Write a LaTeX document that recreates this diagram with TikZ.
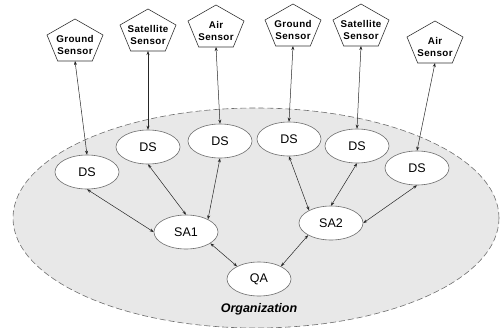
\documentclass[tikz,border=0pt]{standalone}
\usepackage{fontspec}
\setmainfont{Liberation Sans}
\usetikzlibrary{shapes.geometric,arrows.meta}

\definecolor{orgfill}{HTML}{E8E8E8}
\definecolor{rim}{HTML}{6E6E6E}

\tikzset{
  sensorframe/.style={draw=black!80, fill=white, line width=0.6pt, line join=miter},
  sensorlabel/.style={align=center, inner sep=0pt,
    font=\addfontfeatures{LetterSpace=4}\fontsize{9.8}{12}\selectfont\bfseries},
  agent/.style={ellipse, draw=rim, fill=white, line width=0.6pt,
    minimum width=64pt, minimum height=34pt, inner sep=0pt,
    font=\fontsize{12.5}{14}\selectfont},
  link/.style={draw=black!85, line width=0.5pt,
    {Stealth[length=4pt,width=3pt]}-{Stealth[length=4pt,width=3pt]}},
}

% pentagon sensor: name, centre x, top y, label
\newcommand{\sensor}[4]{%
  \draw[sensorframe] (#2,#3) -- (#2+28,#3+16) -- (#2+17.3,#3+42)
     -- (#2-17.3,#3+42) -- (#2-28,#3+16) -- cycle;
  \node[sensorlabel] (#1) at (#2,#3+26) {#4};
  \coordinate (#1-b) at (#2,#3+42);
}

\begin{document}
\begin{tikzpicture}[x=1pt,y=-1pt]
  \useasboundingbox (0,0) rectangle (500,327);

  % organization boundary
  \draw[draw=rim, fill=orgfill, dashed, dash pattern=on 6pt off 3pt, line width=0.6pt]
    (256,218) ellipse [x radius=243, y radius=110];
  \node[font=\fontsize{12.5}{14}\selectfont\bfseries\itshape] (org) at (259,309) {Organization};

  % sensors
  \sensor{gs1}{75}{19}{Ground\\Sensor}
  \sensor{ss1}{148}{9}{Satellite\\Sensor}
  \sensor{as1}{216}{5}{Air\\Sensor}
  \sensor{gs2}{293}{4}{Ground\\Sensor}
  \sensor{ss2}{361}{4}{Satellite\\Sensor}
  \sensor{as2}{435}{21}{Air\\Sensor}

  % data sources
  \node[agent] (ds1) at (87,172) {DS};
  \node[agent] (ds2) at (148,147) {DS};
  \node[agent] (ds3) at (220,141) {DS};
  \node[agent] (ds4) at (289,139) {DS};
  \node[agent] (ds5) at (357,146) {DS};
  \node[agent] (ds6) at (417,168) {DS};

  % situation assessors and query agent
  \node[agent] (sa1) at (186,232) {SA1};
  \node[agent] (sa2) at (331,223) {SA2};
  \node[agent] (qa) at (259,279) {QA};

  % sensor links
  \draw[link] (gs1-b) -- (ds1.north);
  \draw[link] (ss1-b) -- (ds2.north);
  \draw[link] (as1-b) -- (ds3.north);
  \draw[link] (gs2-b) -- (ds4.north);
  \draw[link] (ss2-b) -- (ds5.north);
  \draw[link] (as2-b) -- (ds6.north);

  % data source links
  \draw[link] (ds1.south) -- (sa1.west);
  \draw[link] (ds2.south) -- (sa1.north);
  \draw[link] (ds3.south) -- (sa1.30);
  \draw[link] (ds4.south) -- (sa2.150);
  \draw[link] (ds5.south) -- (sa2.north);
  \draw[link] (ds6.south) -- (sa2.east);

  % assessor links
  \draw[link] (sa1.-25) -- (qa.150);
  \draw[link] (sa2.-152) -- (qa.30);
\end{tikzpicture}
\end{document}
